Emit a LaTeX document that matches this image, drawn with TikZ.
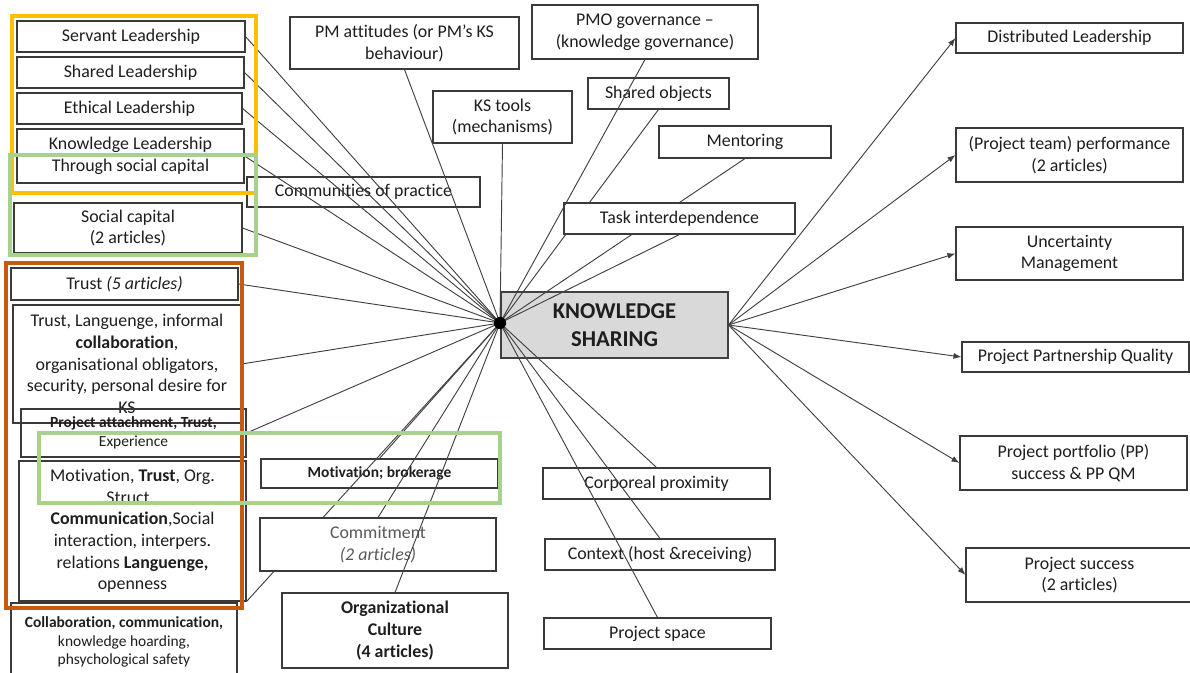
\documentclass[tikz,border=0pt]{standalone}
\usepackage{fontspec}
\setmainfont[Ligatures=CommonOff]{Carlito}
\usetikzlibrary{arrows.meta}
\definecolor{ln}{HTML}{404040}
\definecolor{bd}{HTML}{3A3A3A}
\definecolor{txt}{HTML}{1E1E1E}
\definecolor{ksfill}{HTML}{D9D9D9}
\definecolor{ylw}{HTML}{FFC000}
\definecolor{grn}{HTML}{A9D18E}
\definecolor{org}{HTML}{C55A11}
\newcommand\fsnorm{\fontsize{13.4}{16.2}\selectfont}
\newcommand\fssmall{\fontsize{11.6}{14}\selectfont}
\newcommand\fsbig{\fontsize{17}{21}\selectfont}
\tikzset{
  bx/.style={draw=bd, line width=0.8pt, fill=white, inner sep=0pt,
    align=center, text=txt, font=\fsnorm},
  spoke/.style={draw=ln, line width=0.7pt},
  outarrow/.style={draw=ln, line width=0.7pt, -{Latex[length=6pt,width=4.5pt]}},
  frame/.style={line width=2.3pt}
}
\begin{document}
\begin{tikzpicture}[x=0.75pt,y=-0.75pt]
\useasboundingbox (0,0) rectangle (1190,673);

% hub point of the diagram
\coordinate (hub) at (500,323);

% ---------- left column: leadership and social capital ----------
\node[bx, minimum width=228*0.75pt, minimum height=31*0.75pt] (serv) at (131,36.5) {Servant Leadership};
\node[bx, minimum width=227*0.75pt, minimum height=31*0.75pt] (shrd) at (130.5,72.5) {Shared Leadership};
\node[bx, minimum width=225*0.75pt, minimum height=31*0.75pt] (ethi) at (129.5,108.5) {Ethical Leadership};
\node[bx, minimum width=227*0.75pt, minimum height=54*0.75pt] (know) at (130.5,156) {Knowledge Leadership\\Through social capital};
\node[bx, minimum width=228*0.75pt, minimum height=50*0.75pt] (soc) at (128,228) {Social capital\\(2 articles)};
\node[bx, minimum width=233*0.75pt, minimum height=30*0.75pt] (comm) at (363.5,192) {Communities of practice};

% ---------- left column: trust and communication ----------
\node[bx, minimum width=227*0.75pt, minimum height=32*0.75pt] (trust) at (124.5,284) {Trust \textit{(5 articles)}};
\node[bx, minimum width=228*0.75pt, minimum height=118*0.75pt, fill=none] (tlang) at (127,364) {Trust, Languenge, informal\\\textbf{collaboration},\\organisational obligators,\\security, personal desire for\\KS};
\node[bx, minimum width=225*0.75pt, minimum height=48*0.75pt, fill=none, font=\fssmall] (patt) at (133.5,433) {\textbf{Project attachment, Trust,}\\Experience};
\node[bx, minimum width=227*0.75pt, minimum height=140*0.75pt] (motiv) at (132.5,531) {Motivation, \textbf{Trust}, Org.\\Struct.,\\\textbf{Communication},Social\\interaction, interpers.\\relations \textbf{Languenge,}\\openness};
\node[bx, minimum width=226*0.75pt, minimum height=78*0.75pt, font=\fssmall] (collab) at (124,642) {\textbf{Collaboration, communication,}\\knowledge hoarding,\\phsychological safety};

% ---------- lower middle ----------
\node[bx, minimum width=237*0.75pt, minimum height=29*0.75pt, font=\fssmall] (brok) at (379.5,473.5) {\textbf{Motivation; brokerage}};
\node[bx, minimum width=226*0.75pt, minimum height=75*0.75pt] (orgc) at (395,630.5) {\textbf{Organizational}\\\textbf{Culture}\\\textbf{(4 articles)}};

% ---------- top row ----------
\node[bx, minimum width=229*0.75pt, minimum height=52*0.75pt] (pma) at (404.5,43) {PM attitudes (or PM’s KS\\behaviour)};
\node[bx, minimum width=226*0.75pt, minimum height=54*0.75pt] (pmo) at (645,32) {PMO governance –\\(knowledge governance)};
\node[bx, minimum width=139*0.75pt, minimum height=52*0.75pt] (kst) at (502.5,117) {KS tools\\(mechanisms)};
\node[bx, minimum width=141*0.75pt, minimum height=31*0.75pt] (sobj) at (658.5,93.5) {Shared objects};
\node[bx, minimum width=172*0.75pt, minimum height=32*0.75pt] (ment) at (745,142) {Mentoring};

% ---------- central concept ----------
\node[bx, minimum width=227*0.75pt, minimum height=66*0.75pt, fill=ksfill, draw=ln, font=\fsbig] (ks) at (614.5,325) {\textbf{KNOWLEDGE}\\\textbf{SHARING}};

% ---------- lower right of the hub ----------
\node[bx, minimum width=227*0.75pt, minimum height=31*0.75pt] (corp) at (656.5,483.5) {Corporeal proximity};
\node[bx, minimum width=230*0.75pt, minimum height=31*0.75pt] (ctx) at (660,554.5) {Context (host \&receiving)};
\node[bx, minimum width=227*0.75pt, minimum height=31*0.75pt] (psp) at (657.5,633.5) {Project space};

% ---------- outcomes ----------
\node[bx, minimum width=227*0.75pt, minimum height=30*0.75pt] (dist) at (1069.5,38) {Distributed Leadership};
\node[bx, minimum width=227*0.75pt, minimum height=54*0.75pt] (perf) at (1069.5,155) {(Project team) performance\\(2 articles)};
\node[bx, minimum width=227*0.75pt, minimum height=53*0.75pt] (unc) at (1069.5,253.5) {Uncertainty\\Management};
\node[bx, minimum width=227*0.75pt, minimum height=30*0.75pt] (ppq) at (1075.5,357) {Project Partnership Quality};
\node[bx, minimum width=227*0.75pt, minimum height=54*0.75pt] (port) at (1073.5,463) {Project portfolio (PP)\\success \& PP QM};
\node[bx, minimum width=227*0.75pt, minimum height=54*0.75pt] (succ) at (1079.5,575) {Project success\\(2 articles)};

% spokes that run behind the task and commitment boxes
\draw[spoke] (motiv.south east) -- (hub);
\draw[spoke] (ment.south) -- (hub);
\draw[spoke] (sobj.south) -- (hub);

\node[bx, minimum width=231*0.75pt, minimum height=31*0.75pt] (task) at (679.5,218.5) {Task interdependence};
\node[bx, minimum width=236*0.75pt, minimum height=53*0.75pt, text=black!65] (commit) at (378,544.5) {Commitment\\\textit{(2 articles)}};

% remaining spokes into the hub
\foreach \n in {serv,shrd,ethi,know,soc,trust,tlang,patt}
  \draw[spoke] (\n.east) -- (hub);
\foreach \n in {pma,kst,pmo,task}
  \draw[spoke] (\n.south) -- (hub);
\foreach \n in {brok,commit,orgc,corp,ctx,psp}
  \draw[spoke] (\n.north) -- (hub);
\fill[black] (hub) circle[radius=4.6pt];

% outcome arrows
\foreach \n in {dist,perf,unc,ppq,port,succ}
  \draw[outarrow] (ks.east) -- (\n.west);

% grouping frames
\draw[frame, ylw] (12,16) rectangle (256,193);
\draw[frame, grn] (10,155) rectangle (256,255);
\draw[frame, org] (6,263) rectangle (242,608);
\draw[frame, grn] (39,433) rectangle (500,503);
\end{tikzpicture}
\end{document}
